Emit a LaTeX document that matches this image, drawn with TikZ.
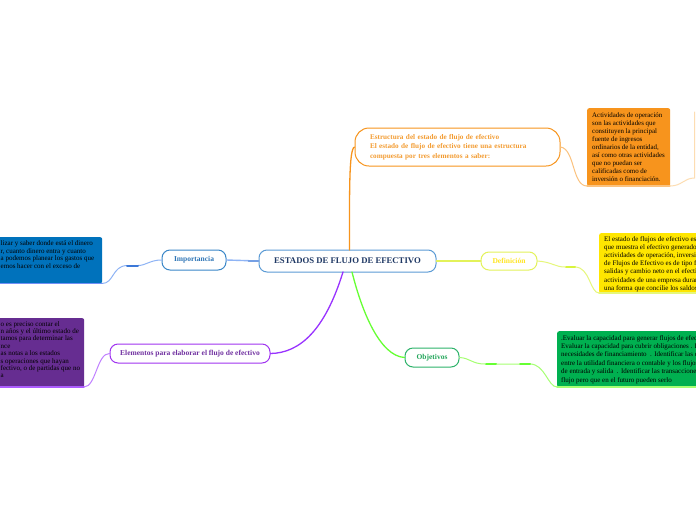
\documentclass[tikz,border=0pt]{standalone}
\usepackage{fontspec}
\setmainfont{Liberation Serif}
\definecolor{cenBorder}{HTML}{5B9BD5}
\definecolor{cenText}{HTML}{1F3864}
\definecolor{impBorder}{HTML}{3A87C8}
\definecolor{impText}{HTML}{2E75B6}
\definecolor{blueFill}{HTML}{0072BC}
\definecolor{blueLine}{HTML}{8FB4F5}
\definecolor{blueDark}{HTML}{3C78D8}
\definecolor{purpleFill}{HTML}{662D91}
\definecolor{elemBorder}{HTML}{A033F0}
\definecolor{elemText}{HTML}{7030A0}
\definecolor{violet}{HTML}{9933FF}
\definecolor{violetLight}{HTML}{C080FF}
\definecolor{orangeMain}{HTML}{F7941D}
\definecolor{orangeText}{HTML}{F39C32}
\definecolor{orangeLight}{HTML}{FBC27E}
\definecolor{orangePale}{HTML}{FDDDB2}
\definecolor{defBorder}{HTML}{E3F25A}
\definecolor{defText}{HTML}{FFE51F}
\definecolor{yellowFill}{HTML}{FFE600}
\definecolor{yellowLine}{HTML}{E6F77A}
\definecolor{yellowDark}{HTML}{D8F53C}
\definecolor{objBorder}{HTML}{2DB36A}
\definecolor{objText}{HTML}{22A65A}
\definecolor{greenFill}{HTML}{00B050}
\definecolor{lime}{HTML}{66FF33}
\definecolor{limeLight}{HTML}{A6FF73}
\begin{document}
\begin{tikzpicture}[x=1pt,y=-1pt,
  topic/.style={draw, rounded corners=8pt, line width=1pt, fill=white,
    font=\bfseries\fontsize{7.5}{9}\selectfont, inner sep=0pt},
  boxshape/.style={rounded corners=2pt, inner sep=0pt, anchor=north west},
  boxtext/.style={font=\fontsize{7}{7.9}\selectfont, align=left, inner sep=0pt, anchor=north west, text=black},
  conn/.style={line width=1pt, line cap=round},
]
\useasboundingbox (0,0) rectangle (696,520);
\fill[white] (0,0) rectangle (696,520);

% ---------- topic nodes ----------
\node[topic, draw=cenBorder, text=cenText, minimum width=177pt, minimum height=22pt,
  font=\bfseries\fontsize{8.7}{10}\selectfont] (c) at (347.5,261) {ESTADOS DE FLUJO DE EFECTIVO};
\node[topic, draw=impBorder, text=impText, minimum width=64pt, minimum height=20pt] (imp) at (194,260) {Importancia};
\node[topic, draw=elemBorder, text=elemText, minimum width=160pt, minimum height=19pt] (elem) at (190,353.5) {Elementos para elaborar el flujo de efectivo};
\node[topic, draw=defBorder, text=defText, minimum width=56pt, minimum height=18pt] (def) at (509,261) {Definición};
\node[topic, draw=objBorder, text=objText, minimum width=54pt, minimum height=19pt] (obj) at (432,357.5) {Objetivos};
\node[topic, draw=orangeMain, text=orangeText, rounded corners=14pt, minimum width=205pt, minimum height=38pt,
  align=left, text width=175pt, inner xsep=15pt, font=\bfseries\fontsize{7.2}{9.4}\selectfont] (est) at (457.5,147)
  {Estructura del estado de flujo de efectivo\\El estado de flujo de efectivo tiene una estructura\\compuesta por tres elementos a saber:};

% ---------- content boxes ----------
\node[boxshape, fill=blueFill, minimum width=112pt, minimum height=46pt] (bbox) at (-10,237) {};
\node[boxtext, font=\fontsize{7}{7.6}\selectfont] (btext) at (0.5,240.5)
  {lizar y saber donde está el dinero\\r, cuanto dinero entra y cuanto\\a podemos planear los gastos que\\emos hacer con el exceso de};

\node[boxshape, fill=purpleFill, minimum width=94pt, minimum height=69pt] (pbox) at (-10,318) {};
\node[boxtext, font=\fontsize{7}{7.4}\selectfont] (ptext) at (0.5,321)
  {o es preciso contar el\\n años y el último estado de\\tamos para determinar las\\nce\\as notas a los estados\\s operaciones que hayan\\fectivo, o de partidas que no\\a};

\node[boxshape, fill=orangeMain, minimum width=83pt, minimum height=78pt] (obox) at (587,108) {};
\node[boxtext, font=\fontsize{6.9}{8.1}\selectfont] (otext) at (592,112)
  {Actividades de operación\\son las actividades que\\constituyen la principal\\fuente de ingresos\\ordinarios de la entidad,\\así como otras actividades\\que no puedan ser\\calificadas como de\\inversión o financiación.};

\node[boxshape, fill=yellowFill, minimum width=110pt, minimum height=60pt] (ybox) at (599,233) {};
\node[boxtext, font=\fontsize{7}{8.2}\selectfont] (ytext) at (604,236)
  {El estado de flujos de efectivo es\\que muestra el efectivo generado\\actividades de operación, inversi\\de Flujos de Efectivo es de tipo f\\salidas y cambio neto en el efecti\\actividades de una empresa duran\\una forma que concilie los saldos};

\node[boxshape, fill=greenFill, minimum width=150pt, minimum height=56pt] (gbox) at (557,331) {};
\node[boxtext, font=\fontsize{7}{8.4}\selectfont] (gtext) at (561,335)
  {.Evaluar la capacidad para generar flujos de efec\\Evaluar la capacidad para cubrir obligaciones . E\\necesidades de financiamiento\ \ . Identificar las d\\entre la utilidad financiera o contable y los flujos\\de entrada y salida\ \ . Identificar las transacciones\\flujo pero que en el futuro pueden serlo};

% ---------- helper coordinates ----------
\coordinate (bbR) at (102,283.5);
\coordinate (bbL) at (0,283.5);
\coordinate (pbR) at (84,387);
\coordinate (pbL) at (0,387);
\coordinate (obL) at (587,186);
\coordinate (obR) at (670,186);
\coordinate (obX) at (694.5,178);
\coordinate (obT) at (694.5,112);
\coordinate (ybL) at (599,293);
\coordinate (ybR) at (696,293);
\coordinate (gbL) at (557,387);
\coordinate (gbR) at (696,387);

% ---------- connectors ----------
% central -> importancia
\draw[conn, draw=blueLine, line width=1.4pt] (c.west) -- (imp.east);
\draw[conn, draw=blueDark!70, line width=1.6pt] (c.west) -- ++(-10,0);
% importancia -> blue box
\draw[conn, draw=blueLine] (imp.west) .. controls (150,260) and (146,265.5) .. (138,265.5)
  -- (127,265.5) .. controls (112,266) and (114,283.5) .. (bbR);
\draw[conn, draw=blueDark, line width=2pt] (138,265.5) -- (127,265.5);
\draw[conn, draw=blueLine!80!blue, line width=1.2pt] (bbL) -- (bbR);

% central -> elementos
\draw[conn, draw=violet, line width=1.3pt] (343,272) .. controls (325,330) and (300,353) .. (elem.east);
% elementos -> purple box
\draw[conn, draw=violetLight] (elem.west) .. controls (97,353) and (96,387) .. (pbR);
\draw[conn, draw=violet!80, line width=1.2pt] (pbL) -- (pbR);

% central -> estructura
\draw[conn, draw=orangeMain, line width=1.3pt] (349.5,250) .. controls (349.5,190) and (349,149) .. (est.west);
% estructura -> orange box
\draw[conn, draw=orangeLight] (est.east) .. controls (575,149) and (572,186) .. (obL);
\draw[conn, draw=orangeLight, line width=1.2pt] (obL) -- (obR);
\draw[conn, draw=orangePale] (obR) .. controls (682,186) and (684,178) .. (obX) -- (obT);

% central -> definicion
\draw[conn, draw=defBorder, line width=1.4pt] (c.east) -- (def.west);
% definicion -> yellow box
\draw[conn, draw=yellowLine] (def.east) .. controls (552,262) and (555,267) .. (565,267)
  -- (575,267) .. controls (590,267) and (590,293) .. (ybL);
\draw[conn, draw=yellowDark, line width=2pt] (566,267) -- (575,267);
\draw[conn, draw=yellowLine, line width=1.2pt] (ybL) -- (ybR);

% central -> objetivos
\draw[conn, draw=lime, line width=1.3pt] (352,272) .. controls (362,312) and (380,356) .. (obj.west);
% objetivos -> green box
\draw[conn, draw=limeLight] (obj.east) .. controls (470,358) and (472,364) .. (485,364)
  -- (530,364) .. controls (545,364) and (548,387) .. (gbL);
\draw[conn, draw=lime, line width=2pt] (486,364) -- (496,364);
\draw[conn, draw=lime, line width=2pt] (520,364) -- (530,364);
\draw[conn, draw=limeLight, line width=1.2pt] (gbL) -- (gbR);
\end{tikzpicture}
\end{document}
